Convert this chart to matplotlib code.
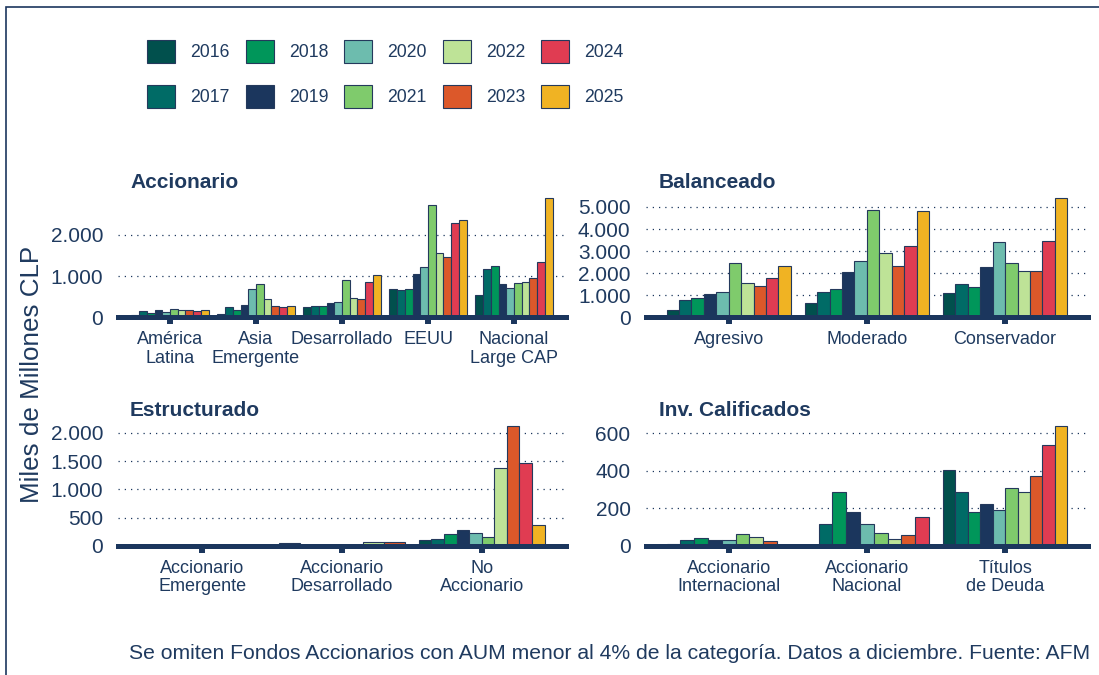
import matplotlib
matplotlib.use("Agg")
import matplotlib.pyplot as plt
from matplotlib.patches import Patch, Rectangle
from matplotlib.ticker import FuncFormatter

plt.rcParams['font.family'] = ['Liberation Sans', 'DejaVu Sans']

years = [2016, 2017, 2018, 2019, 2020, 2021, 2022, 2023, 2024, 2025]
year_colors = ['#01504D', '#006B66', '#00965A', '#1B365D', '#6DBCAE',
               '#7FCB6C', '#BEE397', '#DC582A', '#E03C52', '#F0B323']

# Accionario
acc_cats = ['América\nLatina', 'Asia\nEmergente', 'Desarrollado', 'EEUU', 'Nacional\nLarge CAP']
acc_vals = [
    [60, 150, 120, 190, 140, 195, 190, 185, 165, 190],
    [95, 250, 185, 306, 700, 806, 435, 282, 242, 266],
    [258, 282, 282, 355, 371, 895, 468, 435, 847, 1016],
    [677, 653, 677, 1040, 1218, 2718, 1565, 1468, 2290, 2355],
    [532, 1177, 1250, 815, 718, 830, 863, 960, 1339, 2887],
]
acc_ticks = [0, 1000, 2000]

# Balanceado
bal_cats = ['Agresivo', 'Moderado', 'Conservador']
bal_vals = [
    [361, 813, 904, 1069, 1175, 2485, 1566, 1416, 1792, 2319],
    [663, 1145, 1280, 2063, 2575, 4864, 2937, 2349, 3223, 4819],
    [1099, 1536, 1386, 2289, 3404, 2455, 2093, 2123, 3479, 5407],
]
bal_ticks = [0, 1000, 2000, 3000, 4000, 5000]

# Estructurado (None = sin dato)
est_cats = ['Accionario\nEmergente', 'Accionario\nDesarrollado', 'No\nAccionario']
est_vals = [
    [None] * 10,
    [None, None, 45, 15, 3, 3, 65, 65, None, None],
    [100, 124, 207, 278, 225, 148, 1373, 2124, 1467, 367],
]
est_ticks = [0, 500, 1000, 1500, 2000]

# Inv. Calificados
inv_cats = ['Accionario\nInternacional', 'Accionario\nNacional', 'Títulos\nde Deuda']
inv_vals = [
    [8, 30, 43, 33, 30, 63, 45, 27, 2, None],
    [3, 116, 287, 182, 116, 70, 37, 59, 152, None],
    [402, 289, 180, 221, 191, 307, 286, 370, 536, 639],
]
inv_ticks = [0, 200, 400, 600]

W, H = 1099, 675
NAVY = '#1B365D'
TEXT = '#1F3A5F'
EDGE = '#24395C'


def px_box(left, top, right, bottom):
    return [left / W, 1 - bottom / H, (right - left) / W, (bottom - top) / H]


def miles(v, pos):
    return f'{int(round(v)):,}'.replace(',', '.')


def draw_panel(ax, cats, vals, yticks, title, title_xy):
    top = 0
    for i, row in enumerate(vals):
        present = [(k, v) for k, v in enumerate(row) if v is not None]
        if not present:
            continue
        w = 0.9 / len(present)
        for j, (k, v) in enumerate(present):
            ax.bar(i - 0.45 + w * (j + 0.5), v, width=w, color=year_colors[k],
                   edgecolor=EDGE, linewidth=0.8, zorder=2)
            top = max(top, v)
    ax.set_xlim(-0.6, len(cats) - 0.4)
    ax.set_ylim(0, top * 1.05)
    ax.set_xticks(range(len(cats)), cats)
    ax.set_yticks(yticks)
    ax.yaxis.set_major_formatter(FuncFormatter(miles))
    for s in ['top', 'left', 'right']:
        ax.spines[s].set_visible(False)
    ax.spines['bottom'].set_linewidth(3.6)
    ax.spines['bottom'].set_color(NAVY)
    ax.spines['bottom'].set_zorder(3)
    ax.tick_params(axis='x', length=5, width=4.3, color=NAVY, labelsize=13,
                   labelcolor=TEXT, pad=5)
    ax.tick_params(axis='y', length=0, labelsize=15, labelcolor=TEXT, pad=11)
    for lab in ax.get_xticklabels():
        lab.set_linespacing(1.1)
    ax.yaxis.grid(True, linestyle=(0, (1, 4)), color=NAVY, linewidth=0.9)
    ax.set_axisbelow(True)
    ax.patch.set_alpha(0)
    fig.text(title_xy[0] / W, 1 - title_xy[1] / H, title, fontsize=15,
             fontweight='bold', color=TEXT, ha='left', va='baseline')


fig = plt.figure(figsize=(W / 100, H / 100), dpi=100)

ax1 = fig.add_axes(px_box(118.4, 192, 565.6, 317.5))
ax2 = fig.add_axes(px_box(645.8, 192, 1088, 317.5))
ax3 = fig.add_axes(px_box(118.4, 420, 565.6, 545.7))
ax4 = fig.add_axes(px_box(645.8, 420, 1088, 545.7))

draw_panel(ax1, acc_cats, acc_vals, acc_ticks, 'Accionario', (130, 187.5))
draw_panel(ax2, bal_cats, bal_vals, bal_ticks, 'Balanceado', (659, 187.5))
draw_panel(ax3, est_cats, est_vals, est_ticks, 'Estructurado', (130, 415.5))
draw_panel(ax4, inv_cats, inv_vals, inv_ticks, 'Inv. Calificados', (659, 415.5))

fig.text(32 / W, 1 - 374 / H, 'Miles de Millones CLP', rotation=90, fontsize=18.7,
         color=TEXT, ha='center', va='center')

fig.text(1090 / W, 1 - 659 / H,
         'Se omiten Fondos Accionarios con AUM menor al 4% de la categoría. '
         'Datos a diciembre. Fuente: AFM',
         fontsize=15.2, color=TEXT, ha='right', va='baseline')

handles = [Patch(facecolor=c, edgecolor=EDGE, linewidth=0.8) for c in year_colors]
fig.legend(handles, [str(y) for y in years], ncol=5, loc='upper left',
           bbox_to_anchor=(147.3 / W, 1 - 40 / H), frameon=False,
           fontsize=12.7, labelcolor=TEXT, handlelength=1.58, handleheight=1.64,
           handletextpad=0.85, columnspacing=0.92, labelspacing=1.24,
           borderpad=0, borderaxespad=0)

# marco exterior (solo se ven los bordes izquierdo y superior)
fig.patches.append(Rectangle((5.8 / W, -0.1), 1.2, 1.1 - 6.5 / H,
                             transform=fig.transFigure, fill=False,
                             edgecolor=NAVY, linewidth=1.2))

fig.savefig('out.png', dpi=100)
